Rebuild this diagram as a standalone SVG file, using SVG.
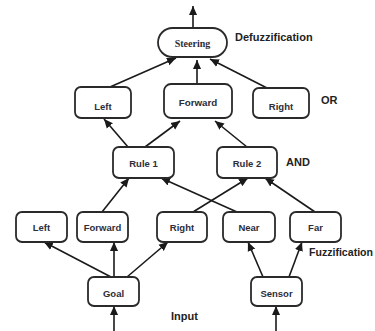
<svg xmlns="http://www.w3.org/2000/svg" width="375" height="331" viewBox="0 0 375 331">
<defs>
<marker id="ah" viewBox="0 0 10 10" refX="10" refY="5" markerWidth="9" markerHeight="9" markerUnits="userSpaceOnUse" orient="auto">
<path d="M0,0.5 L10,5 L0,9.5 Z" fill="#1a1a1a"/>
</marker>
<style>
.box{fill:#fff;stroke:#2a2a2a;stroke-width:1.8}
.lbl{font-family:"Liberation Sans",Arial,sans-serif;font-weight:bold;font-size:9.5px;fill:#2d2d3a;text-anchor:middle}
.big{font-family:"Liberation Sans",Arial,sans-serif;font-weight:bold;font-size:11px;fill:#222}
.edge{stroke:#1a1a1a;stroke-width:1.6;fill:none;marker-end:url(#ah)}
</style>
</defs>
<rect width="375" height="331" fill="#fff"/>
<g id="connectors">
<line class="edge" x1="193" y1="28" x2="193" y2="6"/>
<line class="edge" x1="110" y1="87" x2="176" y2="58"/>
<line class="edge" x1="197" y1="84" x2="197" y2="60"/>
<line class="edge" x1="267" y1="88" x2="210" y2="59"/>
<line class="edge" x1="128" y1="147" x2="104" y2="119"/>
<line class="edge" x1="145" y1="147" x2="180" y2="121"/>
<line class="edge" x1="247" y1="147" x2="215" y2="121"/>
<line class="edge" x1="102" y1="212" x2="129" y2="178"/>
<line class="edge" x1="237" y1="212" x2="161" y2="178"/>
<line class="edge" x1="193" y1="212" x2="248" y2="178"/>
<line class="edge" x1="315" y1="212" x2="265" y2="178"/>
<line class="edge" x1="111" y1="277" x2="44" y2="242"/>
<line class="edge" x1="114" y1="277" x2="114" y2="242"/>
<line class="edge" x1="127" y1="277" x2="168" y2="242"/>
<line class="edge" x1="263" y1="277" x2="248" y2="242"/>
<line class="edge" x1="289" y1="277" x2="302" y2="242"/>
<line class="edge" x1="114" y1="331" x2="114" y2="306"/>
<line class="edge" x1="276" y1="331" x2="276" y2="306"/>
</g>
<g id="steering">
<rect class="box" x="158" y="28" width="69" height="29" rx="14.5"/>
<text x="192.5" y="47" text-anchor="middle" font-family="'Liberation Serif','Times New Roman',serif" font-weight="bold" font-size="10" fill="#2d2d3a">Steering</text>
</g>
<g id="or-left">
<rect class="box" x="75" y="87" width="56" height="31" rx="6"/>
<text class="lbl" x="103" y="109.5">Left</text>
</g>
<g id="or-forward">
<rect class="box" x="164" y="84" width="68" height="34" rx="7"/>
<text class="lbl" x="198" y="106" style="font-size:9.8px">Forward</text>
</g>
<g id="or-right">
<rect class="box" x="253" y="88" width="56" height="30" rx="6"/>
<text class="lbl" x="281" y="109.5">Right</text>
</g>
<g id="rule1">
<rect class="box" x="113" y="147" width="61" height="31" rx="6"/>
<text class="lbl" x="143.5" y="166.5">Rule 1</text>
</g>
<g id="rule2">
<rect class="box" x="217" y="147" width="60" height="31" rx="6"/>
<text class="lbl" x="247" y="166.5">Rule 2</text>
</g>
<g id="in-left">
<rect class="box" x="16" y="212" width="51" height="30" rx="6"/>
<text class="lbl" x="41.5" y="230.5">Left</text>
</g>
<g id="in-forward">
<rect class="box" x="77" y="212" width="51" height="30" rx="6"/>
<text class="lbl" x="102.5" y="230.5">Forward</text>
</g>
<g id="in-right">
<rect class="box" x="157" y="212" width="50" height="30" rx="6"/>
<text class="lbl" x="182" y="230.5">Right</text>
</g>
<g id="in-near">
<rect class="box" x="223" y="212" width="52" height="30" rx="6"/>
<text class="lbl" x="249" y="230.5">Near</text>
</g>
<g id="in-far">
<rect class="box" x="290" y="212" width="51" height="30" rx="6"/>
<text class="lbl" x="315.5" y="230.5">Far</text>
</g>
<g id="goal">
<rect class="box" x="88" y="277" width="51" height="29" rx="6"/>
<text class="lbl" x="113.5" y="297">Goal</text>
</g>
<g id="sensor">
<rect class="box" x="251" y="277" width="51" height="29" rx="6"/>
<text class="lbl" x="276.5" y="297">Sensor</text>
</g>
<g id="labels">
<text class="big" x="235" y="41">Defuzzification</text>
<text class="big" x="321" y="104">OR</text>
<text class="big" x="286" y="166">AND</text>
<text class="big" x="309" y="256" textLength="64" lengthAdjust="spacingAndGlyphs">Fuzzification</text>
<text class="big" x="171" y="320">Input</text>
</g>
</svg>
